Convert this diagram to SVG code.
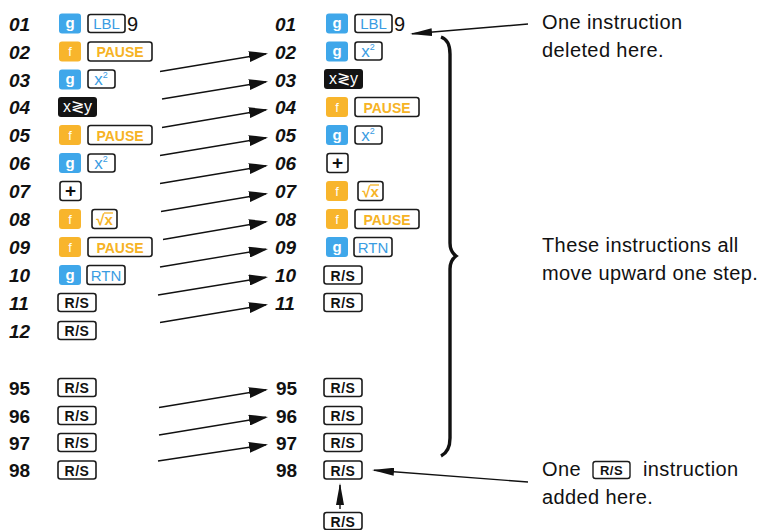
<svg xmlns="http://www.w3.org/2000/svg" width="764" height="530" viewBox="0 0 764 530">
<style>
text{font-family:"Liberation Sans",Arial,sans-serif}
.num{font-style:italic;font-weight:bold;font-size:19px;fill:#111}
.numu{font-weight:bold;font-size:19px;fill:#111}
.kg{fill:#3fa7ea}
.kf{fill:#f8b52c}
.kb{fill:#141414}
.ko{fill:#fff;stroke:#1b1b1b;stroke-width:1.6}
.lw{fill:#fff;font-weight:bold;font-size:15px;text-anchor:middle}
.lf{fill:#fff;font-size:13px;text-anchor:middle}
.lbl{fill:#3a9ce2;font-size:15px;text-anchor:middle}
.lx{fill:#3a9ce2;font-size:17px;text-anchor:middle}
.lor{fill:#f6b325;font-weight:bold;font-size:14px;text-anchor:middle}
.lbk{fill:#111;font-weight:bold;font-size:14px;text-anchor:middle;letter-spacing:0.5px}
.nine{fill:#111;font-size:20px}
.note{fill:#111;font-size:20px;letter-spacing:0.4px}
.conn{stroke:#111;stroke-width:1.4;fill:none}
</style>
<defs>
<marker id="ah" viewBox="0 0 19 11" refX="17" refY="5.5" markerWidth="19" markerHeight="11" markerUnits="userSpaceOnUse" orient="auto"><path d="M0,0 L19,5.5 L0,11 Z" fill="#111"/></marker>
<marker id="ah2" viewBox="0 0 22 8" refX="20" refY="4" markerWidth="22" markerHeight="8" markerUnits="userSpaceOnUse" orient="auto"><path d="M0,0 L22,4 L0,8 Z" fill="#111"/></marker>
</defs>
<rect width="764" height="530" fill="#fff"/>

<!-- LEFT COLUMN -->
<g id="L01"><text class="num" x="9" y="30.5">01</text><rect class="kg" x="59" y="13.5" width="22" height="20" rx="3"/><text class="lw" x="70" y="28">g</text><rect class="ko" x="88" y="14.5" width="37" height="18" rx="2.5"/><text class="lbl" x="106.5" y="29">LBL</text><text class="nine" x="127" y="31">9</text></g>
<g id="L02"><text class="num" x="9" y="58.5">02</text><rect class="kf" x="59" y="41.5" width="22" height="20" rx="3"/><text class="lf" x="70" y="56">f</text><rect class="ko" x="88" y="42" width="64" height="19" rx="2.5"/><text class="lor" x="120" y="57">PAUSE</text></g>
<g id="L03"><text class="num" x="9" y="86.5">03</text><rect class="kg" x="59" y="69.5" width="22" height="20" rx="3"/><text class="lw" x="70" y="84">g</text><rect class="ko" x="88" y="70" width="27" height="18" rx="2.5"/><text class="lx" x="101" y="85">x<tspan font-size="9" dy="-7">2</tspan></text></g>
<g id="L04"><text class="num" x="9" y="114">04</text><rect class="kb" x="58" y="97" width="39" height="20" rx="3"/><text class="lw" x="77.5" y="112" style="font-weight:normal;font-size:16px">x≷y</text></g>
<g id="L05"><text class="num" x="9" y="142">05</text><rect class="kf" x="59" y="125" width="22" height="20" rx="3"/><text class="lf" x="70" y="139.5">f</text><rect class="ko" x="88" y="125.5" width="64" height="19" rx="2.5"/><text class="lor" x="120" y="140.5">PAUSE</text></g>
<g id="L06"><text class="num" x="9" y="170">06</text><rect class="kg" x="59" y="153" width="22" height="20" rx="3"/><text class="lw" x="70" y="167.5">g</text><rect class="ko" x="88" y="154" width="27" height="18" rx="2.5"/><text class="lx" x="101" y="169">x<tspan font-size="9" dy="-7">2</tspan></text></g>
<g id="L07"><text class="num" x="9" y="198">07</text><rect class="ko" x="60" y="181.5" width="21" height="19" rx="2.5"/><text class="lbk" x="70.5" y="197" style="font-size:19px;letter-spacing:0">+</text></g>
<g id="L08"><text class="num" x="9" y="226">08</text><rect class="kf" x="59" y="209" width="22" height="20" rx="3"/><text class="lf" x="70" y="223.5">f</text><rect class="ko" x="92" y="209.5" width="25" height="19" rx="2.5"/><text class="lor" x="104.5" y="224.5" style="font-size:15px">√x</text><line x1="104" y1="213" x2="113" y2="213" stroke="#f6b325" stroke-width="1.3"/></g>
<g id="L09"><text class="num" x="9" y="254">09</text><rect class="kf" x="59" y="237" width="22" height="20" rx="3"/><text class="lf" x="70" y="251.5">f</text><rect class="ko" x="88" y="237.5" width="64" height="19" rx="2.5"/><text class="lor" x="120" y="252.5">PAUSE</text></g>
<g id="L10"><text class="num" x="9" y="282">10</text><rect class="kg" x="59" y="265" width="22" height="20" rx="3"/><text class="lw" x="70" y="279.5">g</text><rect class="ko" x="87" y="265.5" width="38" height="19" rx="2.5"/><text class="lbl" x="106" y="280.5">RTN</text></g>
<g id="L11"><text class="num" x="9" y="309.5">11</text><rect class="ko" x="58" y="293.5" width="38" height="18" rx="2.5"/><text class="lbk" x="77" y="308">R/S</text></g>
<g id="L12"><text class="num" x="9" y="337.5">12</text><rect class="ko" x="58" y="321.5" width="38" height="18" rx="2.5"/><text class="lbk" x="77" y="336">R/S</text></g>
<g id="L95"><text class="numu" x="9" y="394.5">95</text><rect class="ko" x="58" y="378.5" width="38" height="18" rx="2.5"/><text class="lbk" x="77" y="393">R/S</text></g>
<g id="L96"><text class="numu" x="9" y="422.5">96</text><rect class="ko" x="58" y="406.5" width="38" height="18" rx="2.5"/><text class="lbk" x="77" y="421">R/S</text></g>
<g id="L97"><text class="numu" x="9" y="449.5">97</text><rect class="ko" x="58" y="433.5" width="38" height="18" rx="2.5"/><text class="lbk" x="77" y="448">R/S</text></g>
<g id="L98"><text class="numu" x="9" y="477">98</text><rect class="ko" x="58" y="461" width="38" height="18" rx="2.5"/><text class="lbk" x="77" y="475.5">R/S</text></g>

<!-- RIGHT COLUMN -->
<g id="R01"><text class="num" x="275" y="30.5">01</text><rect class="kg" x="326" y="13.5" width="22" height="20" rx="3"/><text class="lw" x="337" y="28">g</text><rect class="ko" x="355" y="14.5" width="37" height="18" rx="2.5"/><text class="lbl" x="373.5" y="29">LBL</text><text class="nine" x="394" y="31">9</text></g>
<g id="R02"><text class="num" x="275" y="58.5">02</text><rect class="kg" x="326" y="41.5" width="22" height="20" rx="3"/><text class="lw" x="337" y="56">g</text><rect class="ko" x="355" y="42" width="27" height="18" rx="2.5"/><text class="lx" x="368" y="57">x<tspan font-size="9" dy="-7">2</tspan></text></g>
<g id="R03"><text class="num" x="275" y="86.5">03</text><rect class="kb" x="324" y="69" width="39" height="20" rx="3"/><text class="lw" x="343.5" y="84" style="font-weight:normal;font-size:16px">x≷y</text></g>
<g id="R04"><text class="num" x="275" y="114">04</text><rect class="kf" x="326" y="97" width="22" height="20" rx="3"/><text class="lf" x="337" y="111.5">f</text><rect class="ko" x="355" y="97.5" width="64" height="19" rx="2.5"/><text class="lor" x="387" y="112.5">PAUSE</text></g>
<g id="R05"><text class="num" x="275" y="142">05</text><rect class="kg" x="326" y="125" width="22" height="20" rx="3"/><text class="lw" x="337" y="139.5">g</text><rect class="ko" x="355" y="126" width="27" height="18" rx="2.5"/><text class="lx" x="368" y="141">x<tspan font-size="9" dy="-7">2</tspan></text></g>
<g id="R06"><text class="num" x="275" y="170">06</text><rect class="ko" x="327" y="153.5" width="21" height="19" rx="2.5"/><text class="lbk" x="337.5" y="169" style="font-size:19px;letter-spacing:0">+</text></g>
<g id="R07"><text class="num" x="275" y="198">07</text><rect class="kf" x="326" y="181" width="22" height="20" rx="3"/><text class="lf" x="337" y="195.5">f</text><rect class="ko" x="358" y="181.5" width="25" height="19" rx="2.5"/><text class="lor" x="370.5" y="196.5" style="font-size:15px">√x</text><line x1="370" y1="185" x2="379" y2="185" stroke="#f6b325" stroke-width="1.3"/></g>
<g id="R08"><text class="num" x="275" y="226">08</text><rect class="kf" x="326" y="209" width="22" height="20" rx="3"/><text class="lf" x="337" y="223.5">f</text><rect class="ko" x="355" y="209.5" width="64" height="19" rx="2.5"/><text class="lor" x="387" y="224.5">PAUSE</text></g>
<g id="R09"><text class="num" x="275" y="254">09</text><rect class="kg" x="326" y="237" width="22" height="20" rx="3"/><text class="lw" x="337" y="251.5">g</text><rect class="ko" x="354" y="237.5" width="38" height="19" rx="2.5"/><text class="lbl" x="373" y="252.5">RTN</text></g>
<g id="R10"><text class="num" x="275" y="282">10</text><rect class="ko" x="324" y="266" width="38" height="18" rx="2.5"/><text class="lbk" x="343" y="280.5">R/S</text></g>
<g id="R11"><text class="num" x="275" y="309.5">11</text><rect class="ko" x="324" y="293.5" width="38" height="18" rx="2.5"/><text class="lbk" x="343" y="308">R/S</text></g>
<g id="R95"><text class="numu" x="276" y="394.5">95</text><rect class="ko" x="324" y="378.5" width="38" height="18" rx="2.5"/><text class="lbk" x="343" y="393">R/S</text></g>
<g id="R96"><text class="numu" x="276" y="422.5">96</text><rect class="ko" x="324" y="406.5" width="38" height="18" rx="2.5"/><text class="lbk" x="343" y="421">R/S</text></g>
<g id="R97"><text class="numu" x="276" y="449.5">97</text><rect class="ko" x="324" y="433.5" width="38" height="18" rx="2.5"/><text class="lbk" x="343" y="448">R/S</text></g>
<g id="R98"><text class="numu" x="276" y="477">98</text><rect class="ko" x="324" y="461" width="38" height="18" rx="2.5"/><text class="lbk" x="343" y="475.5">R/S</text></g>
<g id="Rnew"><rect class="ko" x="324" y="512.5" width="38" height="17" rx="2.5"/><text class="lbk" x="343" y="526.5">R/S</text></g>

<!-- BRACE -->
<g id="brace"><path d="M441,37 C447,39 450,44 450,54 L450,243 C450,250 452,253 456,256 C452,259 450,262 450,269 L450,438 C450,448 447,453 441,456" fill="none" stroke="#111" stroke-width="3.4"/></g>

<!-- NOTES -->
<g id="note1"><text class="note" x="542" y="29">One instruction</text><text class="note" x="542" y="57">deleted here.</text></g>
<g id="note2"><text class="note" x="542" y="252">These instructions all</text><text class="note" x="542" y="280">move upward one step.</text></g>
<g id="note3"><text class="note" x="542" y="476">One</text><rect class="ko" x="593" y="461.5" width="37" height="17" rx="2.5" style="stroke-width:1.4"/><text class="lbk" x="611.5" y="475" style="font-size:13px">R/S</text><text class="note" x="643" y="476">instruction</text><text class="note" x="542" y="504">added here.</text></g>

<!-- CONNECTORS -->
<g id="connectors" class="conn">
<path d="M160,71.5 L266,53.8" marker-end="url(#ah)"/>
<path d="M162,99 L266,81.8" marker-end="url(#ah)"/>
<path d="M162,127.5 L266,109.8" marker-end="url(#ah)"/>
<path d="M160,155.5 L266,137.8" marker-end="url(#ah)"/>
<path d="M160,183.5 L266,165.8" marker-end="url(#ah)"/>
<path d="M161,211.5 L266,193.8" marker-end="url(#ah)"/>
<path d="M163,239.5 L266,221.8" marker-end="url(#ah)"/>
<path d="M160,267 L266,249.3" marker-end="url(#ah)"/>
<path d="M158,295 L266,277.3" marker-end="url(#ah)"/>
<path d="M160,322.5 L266,304.8" marker-end="url(#ah)"/>
<path d="M159,407.5 L266,389.8" marker-end="url(#ah)"/>
<path d="M159,435 L266,417.3" marker-end="url(#ah)"/>
<path d="M158,461 L266,444.8" marker-end="url(#ah)"/>
<path d="M528,24 L412,33.8" marker-end="url(#ah2)"/>
<path d="M528,482 L374,470.2" marker-end="url(#ah2)"/>
<path d="M340,509 L340,485" marker-end="url(#ah2)"/>
</g>
</svg>
